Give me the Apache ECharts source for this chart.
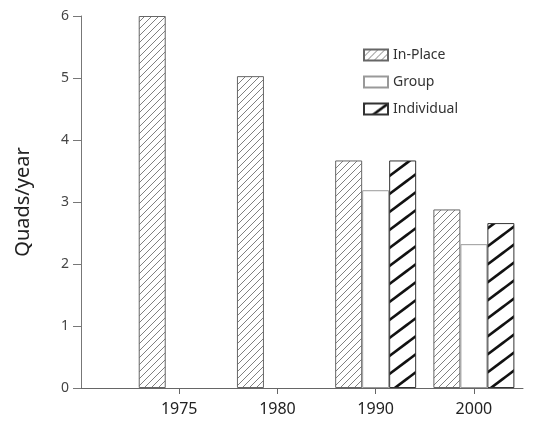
<!DOCTYPE html>
<html>
<head>
<meta charset="utf-8">
<script src="https://cdn.jsdelivr.net/npm/echarts@6/dist/echarts.min.js"></script>
<style>
  html, body { margin: 0; padding: 0; background: #ffffff; }
  #chart { width: 533px; height: 425px; }
</style>
</head>
<body>
<div id="chart"></div>
<script>
// Energy demand by supply arrangement, in quads per year
const categories = ['1975', '1980', '1990', '2000'];
const inPlace    = [6.0, 5.03, 3.67, 2.88];
const group      = [null, null, 3.19, 2.32];
const individual = [null, null, 3.67, 2.66];
const yTicks     = [0, 1, 2, 3, 4, 5, 6];

// Diagonal hatch tile: one stripe per tile, running lower-left to upper-right
function hatch(w, h, color, lineWidth) {
  const c = document.createElement('canvas');
  c.width = w; c.height = h;
  const g = c.getContext('2d');
  g.fillStyle = '#ffffff';
  g.fillRect(0, 0, w, h);
  g.strokeStyle = color;
  g.lineWidth = lineWidth;
  g.lineCap = 'butt';
  for (let k = -1; k <= 1; k++) {
    g.beginPath();
    g.moveTo(-w, 2 * h + k * h);
    g.lineTo(2 * w, -h + k * h);
    g.stroke();
  }
  return { image: c, repeat: 'repeat' };
}

const thinHatch  = hatch(7, 7, '#808080', 1);
const thickHatch = hatch(24, 18, '#111111', 2.6);

function pairs(values) {
  return values.map((v, i) => [i, v]);
}

const font = 'Noto Sans, DejaVu Sans, sans-serif';

const chart = echarts.init(document.getElementById('chart'), null, { renderer: 'canvas' });
chart.setOption({
  animation: false,
  backgroundColor: '#ffffff',
  textStyle: { fontFamily: font },
  grid: { left: 81, right: 10, top: 16, bottom: 37, containLabel: false },
  legend: {
    orient: 'vertical',
    left: 358,
    top: 43,
    itemWidth: 24,
    itemHeight: 11,
    itemGap: 13,
    icon: 'rect',
    textStyle: { fontSize: 14, color: '#333', fontFamily: font },
    data: ['In-Place', 'Group', 'Individual']
  },
  xAxis: {
    type: 'value',
    min: -1,
    max: 3.5,
    interval: 1,
    splitLine: { show: false },
    axisLine: { show: true, onZero: false, lineStyle: { color: '#666', width: 1 } },
    axisTick: { show: true, length: 6, customValues: [0, 1, 2, 3], lineStyle: { color: '#666' } },
    axisLabel: {
      customValues: [0, 1, 2, 3],
      formatter: v => categories[Math.round(v)] || '',
      fontSize: 16,
      color: '#222',
      margin: 13,
      fontFamily: font
    }
  },
  yAxis: {
    type: 'value',
    min: 0,
    max: 6,
    interval: 1,
    name: 'Quads/year',
    nameLocation: 'middle',
    nameGap: 48,
    nameTextStyle: { fontSize: 20, color: '#222', fontFamily: font },
    splitLine: { show: false },
    axisLine: { show: true, onZero: false, lineStyle: { color: '#777', width: 1 } },
    axisTick: { show: true, length: 8, lineStyle: { color: '#777' } },
    axisLabel: {
      formatter: v => (yTicks.indexOf(v) >= 0 ? String(v) : ''),
      fontSize: 14,
      color: '#444',
      margin: 12,
      fontFamily: font
    }
  },
  series: [
    {
      name: 'In-Place',
      type: 'bar',
      barWidth: 27,
      barGap: '0%',
      data: pairs(inPlace),
      itemStyle: { color: thinHatch, borderColor: '#666', borderWidth: 1 }
    },
    {
      name: 'Group',
      type: 'bar',
      barWidth: 27,
      barGap: '0%',
      data: pairs(group),
      itemStyle: { color: '#ffffff', borderColor: '#999', borderWidth: 1 }
    },
    {
      name: 'Individual',
      type: 'bar',
      barWidth: 27,
      barGap: '0%',
      data: pairs(individual),
      itemStyle: { color: thickHatch, borderColor: '#333', borderWidth: 1 }
    }
  ]
});
</script>
</body>
</html>
